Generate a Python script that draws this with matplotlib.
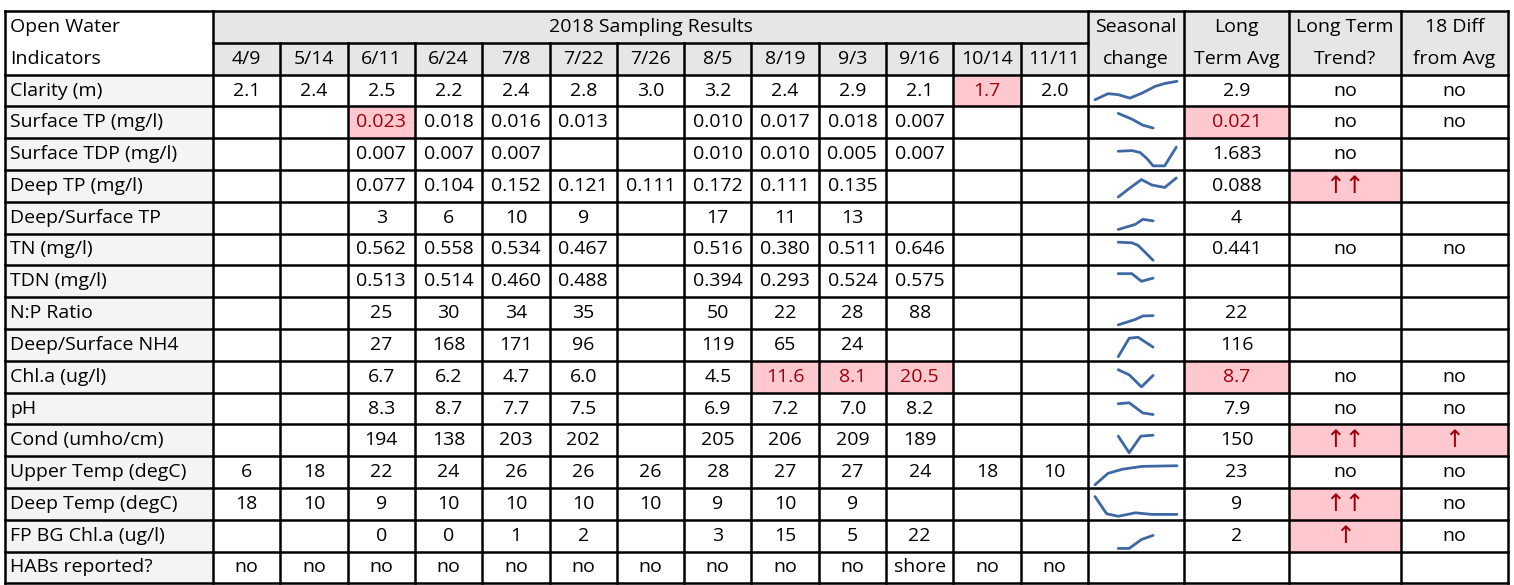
import matplotlib.pyplot as plt

# Fechas de muestreo y filas del cuadro
dates = ['4/9', '5/14', '6/11', '6/24', '7/8', '7/22', '7/26', '8/5', '8/19', '9/3', '9/16', '10/14', '11/11']
indicators = ['Clarity (m)', 'Surface TP (mg/l)', 'Surface TDP (mg/l)', 'Deep TP (mg/l)',
              'Deep/Surface TP', 'TN (mg/l)', 'TDN (mg/l)', 'N:P Ratio', 'Deep/Surface NH4',
              'Chl.a (ug/l)', 'pH', 'Cond (umho/cm)', 'Upper Temp (degC)', 'Deep Temp (degC)',
              'FP BG Chl.a (ug/l)', 'HABs reported?']

clarity = ['2.1', '2.4', '2.5', '2.2', '2.4', '2.8', '3.0', '3.2', '2.4', '2.9', '2.1', '1.7', '2.0']
surface_tp = ['', '', '0.023', '0.018', '0.016', '0.013', '', '0.010', '0.017', '0.018', '0.007', '', '']
surface_tdp = ['', '', '0.007', '0.007', '0.007', '', '', '0.010', '0.010', '0.005', '0.007', '', '']
deep_tp = ['', '', '0.077', '0.104', '0.152', '0.121', '0.111', '0.172', '0.111', '0.135', '', '', '']
deep_surf_tp = ['', '', '3', '6', '10', '9', '', '17', '11', '13', '', '', '']
tn = ['', '', '0.562', '0.558', '0.534', '0.467', '', '0.516', '0.380', '0.511', '0.646', '', '']
tdn = ['', '', '0.513', '0.514', '0.460', '0.488', '', '0.394', '0.293', '0.524', '0.575', '', '']
np_ratio = ['', '', '25', '30', '34', '35', '', '50', '22', '28', '88', '', '']
deep_surf_nh4 = ['', '', '27', '168', '171', '96', '', '119', '65', '24', '', '', '']
chla = ['', '', '6.7', '6.2', '4.7', '6.0', '', '4.5', '11.6', '8.1', '20.5', '', '']
ph = ['', '', '8.3', '8.7', '7.7', '7.5', '', '6.9', '7.2', '7.0', '8.2', '', '']
cond = ['', '', '194', '138', '203', '202', '', '205', '206', '209', '189', '', '']
upper_temp = ['6', '18', '22', '24', '26', '26', '26', '28', '27', '27', '24', '18', '10']
deep_temp = ['18', '10', '9', '10', '10', '10', '10', '9', '10', '9', '', '', '']
fp_bg_chla = ['', '', '0', '0', '1', '2', '', '3', '15', '5', '22', '', '']
habs = ['no', 'no', 'no', 'no', 'no', 'no', 'no', 'no', 'no', 'no', 'shore', 'no', 'no']

sampling = [clarity, surface_tp, surface_tdp, deep_tp, deep_surf_tp, tn, tdn, np_ratio,
            deep_surf_nh4, chla, ph, cond, upper_temp, deep_temp, fp_bg_chla, habs]

long_term_avg = ['2.9', '0.021', '1.683', '0.088', '4', '0.441', '', '22', '116', '8.7',
                 '7.9', '150', '23', '9', '2', '']
long_term_trend = ['no', 'no', 'no', '↑↑', '', 'no', '', '', '', 'no', 'no', '↑↑', 'no', '↑↑', '↑', '']
diff_from_avg = ['no', 'no', '', '', '', 'no', '', '', '', 'no', 'no', '↑', 'no', 'no', 'no', '']

# celdas marcadas (fila, fecha)
flag_sampling = [(0, 11), (1, 2), (9, 8), (9, 9), (9, 10)]
flag_avg = [1, 9]
flag_trend = [3, 11, 13, 14]
flag_diff = [11]

# tendencia estacional (sparklines): posicion (indice de fecha) y nivel relativo
spark_x = [[0, 1.9, 3.4, 5.1, 6.9, 8.8, 10.2, 12],
           [3.4, 5.4, 7.0, 8.5],
           [3.4, 5.4, 6.6, 7.6, 8.5, 10.2, 11.0, 11.9],
           [3.4, 4.9, 6.8, 8.3, 10.2, 11.9],
           [3.4, 4.8, 5.9, 7.0, 8.5],
           [3.4, 5.4, 6.3, 7.3, 8.5],
           [3.4, 5.4, 6.8, 8.5],
           [3.4, 5.9, 7.0, 8.5],
           [3.4, 5.0, 6.3, 8.5],
           [3.4, 5.0, 6.8, 8.5],
           [3.4, 5.0, 6.3, 7.0, 8.5],
           [3.4, 5.0, 6.7, 8.5],
           [0, 1.9, 4.0, 6.9, 12],
           [0, 1.7, 3.4, 5.9, 8.3, 12],
           [3.4, 5.0, 6.8, 8.5],
           []]
spark_y = [[0.21, 0.40, 0.37, 0.26, 0.42, 0.63, 0.72, 0.79],
           [0.78, 0.60, 0.41, 0.32],
           [0.59, 0.61, 0.55, 0.36, 0.13, 0.13, 0.41, 0.72],
           [0.15, 0.40, 0.70, 0.53, 0.45, 0.75],
           [0.13, 0.22, 0.29, 0.45, 0.40],
           [0.73, 0.71, 0.63, 0.42, 0.16],
           [0.74, 0.74, 0.50, 0.60],
           [0.13, 0.30, 0.41, 0.42],
           [0.13, 0.71, 0.74, 0.43],
           [0.72, 0.56, 0.18, 0.54],
           [0.65, 0.68, 0.47, 0.36, 0.31],
           [0.63, 0.11, 0.63, 0.66],
           [0.10, 0.46, 0.59, 0.68, 0.70],
           [0.73, 0.19, 0.11, 0.22, 0.17, 0.17],
           [0.10, 0.10, 0.38, 0.51],
           []]

# layout en pixeles
W, H = 1514, 585
x0, label_w = 5, 208
date_w = 875 / 13
extra_w = [96, 105, 112, 107]
top, row_h = 11, 31.8

header_fill = '#e7e6e6'
label_fill = '#f4f4f4'
pink = '#ffc7ce'
dark_red = '#9c0006'
spark_color = '#3d68a3'
FONT = ['Open Sans', 'DejaVu Sans']
FS = 14

fig = plt.figure(figsize=(W / 100, H / 100), dpi=100)
ax = fig.add_axes([0, 0, 1, 1])
ax.set_xlim(0, W)
ax.set_ylim(H, 0)
ax.axis('off')

col_edges = [x0, x0 + label_w]
for i in range(13):
    col_edges.append(x0 + label_w + (i + 1) * date_w)
for w in extra_w:
    col_edges.append(col_edges[-1] + w)
n_rows = 2 + len(indicators)
row_edges = [top + i * row_h for i in range(n_rows + 1)]


def fill(c0, c1, r0, r1, color):
    ax.fill_between([col_edges[c0], col_edges[c1]], row_edges[r0], row_edges[r1],
                    color=color, lw=0, zorder=1)


def put(c, r, s, ha='center', color='black', c1=None):
    c1 = c + 1 if c1 is None else c1
    if ha == 'left':
        x = col_edges[c] + 5
    else:
        x = (col_edges[c] + col_edges[c1]) / 2
    y = row_edges[r] + row_h * 0.5
    if '↑' in s:
        ax.text(x, y, s, ha=ha, va='center', fontsize=17,
                family='DejaVu Sans', color=color, zorder=3)
    else:
        ax.text(x, y, s, ha=ha, va='center', fontsize=FS, family=FONT, color=color, zorder=3)


# encabezado
fill(1, 14, 0, 2, header_fill)
fill(14, 18, 0, 2, header_fill)
fill(0, 1, 2, n_rows, label_fill)
put(0, 0, 'Open Water', ha='left')
put(0, 1, 'Indicators', ha='left')
put(1, 0, '2018 Sampling Results', c1=14)
for i, d in enumerate(dates):
    put(1 + i, 1, d)
for j, (a, b) in enumerate([('Seasonal', 'change'), ('Long', 'Term Avg'),
                            ('Long Term', 'Trend?'), ('18 Diff', 'from Avg')]):
    put(14 + j, 0, a)
    put(14 + j, 1, b)

# filas de datos
for r, name in enumerate(indicators):
    rr = r + 2
    put(0, rr, name, ha='left')
    for c, v in enumerate(sampling[r]):
        flagged = (r, c) in flag_sampling
        if flagged:
            fill(1 + c, 2 + c, rr, rr + 1, pink)
        if v:
            put(1 + c, rr, v, color=dark_red if flagged else 'black')
    for col, vals, flags in [(15, long_term_avg, flag_avg), (16, long_term_trend, flag_trend),
                             (17, diff_from_avg, flag_diff)]:
        if r in flags:
            fill(col, col + 1, rr, rr + 1, pink)
        if vals[r]:
            put(col, rr, vals[r], color=dark_red if r in flags else 'black')
    # sparkline
    if spark_x[r]:
        sx0 = col_edges[14] + 7
        sx1 = col_edges[15] - 7
        xs = [sx0 + (sx1 - sx0) * v / 12 for v in spark_x[r]]
        ys = [row_edges[rr + 1] - row_h * v for v in spark_y[r]]
        ax.plot(xs, ys, color=spark_color, lw=2.0, solid_capstyle='round',
                solid_joinstyle='round', zorder=3)

# bordes
lw = 1.8
ax.plot([col_edges[0], col_edges[-1]], [row_edges[0]] * 2, color='black', lw=lw, zorder=4)
ax.plot([col_edges[1], col_edges[14]], [row_edges[1]] * 2, color='black', lw=lw, zorder=4)
for r in range(2, n_rows + 1):
    ax.plot([col_edges[0], col_edges[-1]], [row_edges[r]] * 2, color='black', lw=lw, zorder=4)
for c, xe in enumerate(col_edges):
    y_start = row_edges[1] if 2 <= c <= 13 else row_edges[0]
    ax.plot([xe, xe], [y_start, row_edges[-1]], color='black', lw=lw, zorder=4)

fig.savefig('out.png', dpi=100)
